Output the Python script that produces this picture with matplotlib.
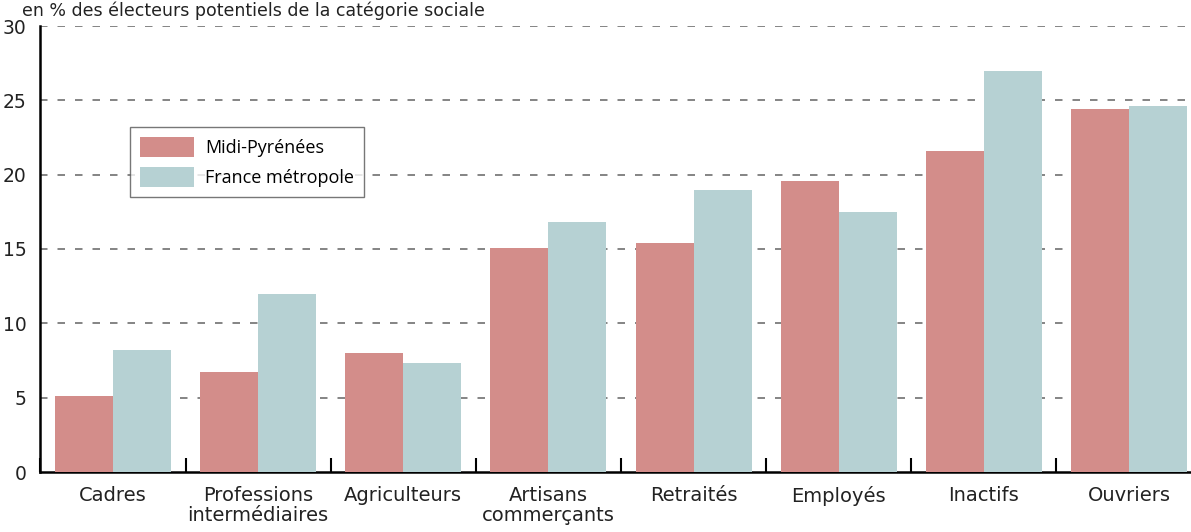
import matplotlib
matplotlib.use("Agg")
import matplotlib.pyplot as plt
import numpy as np

categories = ["Cadres", "Professions\nintermédiaires", "Agriculteurs", "Artisans\ncommerçants",
              "Retraités", "Employés", "Inactifs", "Ouvriers"]
midi_pyrenees = [5.1, 6.7, 8.0, 15.1, 15.4, 19.6, 21.6, 24.4]
france_metropole = [8.2, 12.0, 7.3, 16.8, 19.0, 17.5, 27.0, 24.6]
series_labels = ["Midi-Pyrénées", "France métropole"]
yticks = [0, 5, 10, 15, 20, 25, 30]
title = "en % des électeurs potentiels de la catégorie sociale"

W, H = 1191, 532
fig = plt.figure(figsize=(W / 100, H / 100), dpi=100)
# axes in pixel coords: left 40.4, right 1201.6, bottom y=472, top y=26
ax = fig.add_axes([40.4 / W, (H - 472) / H, (1201.6 - 40.4) / W, (472 - 26) / H])

x = np.arange(len(categories))
w = 0.4
red = "#D38D8A"
blue = "#B6D1D3"
ax.bar(x - w / 2, midi_pyrenees, width=w, color=red, label=series_labels[0], zorder=3)
ax.bar(x + w / 2, france_metropole, width=w, color=blue, label=series_labels[1], zorder=3)

ax.set_xlim(-0.5, len(categories) - 0.5)
ax.set_ylim(0, 30)
ax.set_yticks(yticks)
ax.set_yticklabels([str(v) for v in yticks], fontsize=13.5)
ax.tick_params(axis="y", length=0, pad=10, colors="#222222")
ax.set_xticks(x)
ax.set_xticklabels(categories, fontsize=14, color="#222222", linespacing=1.05)
ax.tick_params(axis="x", which="major", length=0, pad=10)
ax.set_xticks(np.arange(len(categories) + 1) - 0.5, minor=True)
ax.tick_params(axis="x", which="minor", direction="in", length=10, width=1.5, color="black")

for v in yticks[1:]:
    ax.axhline(v, color="#6f6f6f", lw=1.2, dashes=(4.5, 6), zorder=1)

for s in ["top", "right"]:
    ax.spines[s].set_visible(False)
ax.spines["left"].set_linewidth(1.8)
ax.spines["bottom"].set_linewidth(1.8)

leg = fig.legend(loc="upper left", bbox_to_anchor=(130 / W, (H - 127) / H),
                 fontsize=13, frameon=True, fancybox=False, edgecolor="#555555",
                 handlelength=3.0, handleheight=1.35, handletextpad=0.6,
                 borderpad=0.55, labelspacing=0.55, borderaxespad=0)
leg.get_frame().set_linewidth(1.0)
for t in leg.get_texts():
    t.set_family("Open Sans")

fig.text(22 / W, 1 - 1 / H, title, fontsize=12.5, color="#222222", va="top", ha="left")

fig.savefig("out.png", dpi=100)
